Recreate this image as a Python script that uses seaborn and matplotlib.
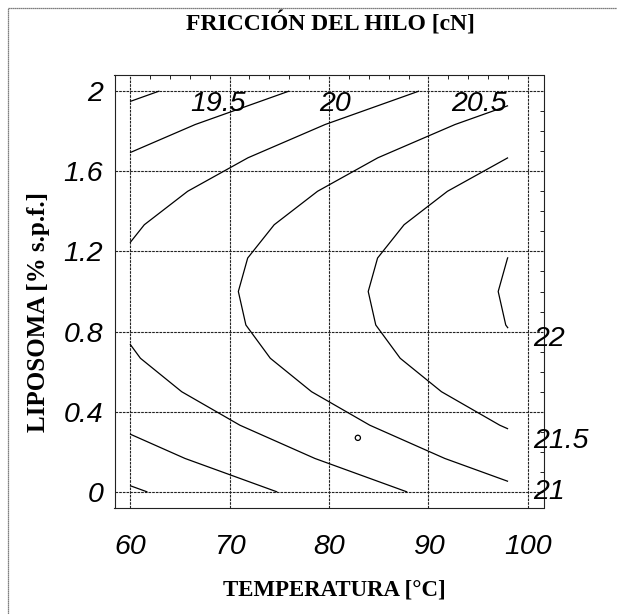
import matplotlib
matplotlib.use("Agg")
import numpy as np
import pandas as pd
import seaborn as sns
import matplotlib.pyplot as plt
from matplotlib.ticker import MultipleLocator, FixedLocator, FuncFormatter
from matplotlib.lines import Line2D

# ---- data ----
temperatura = [60, 70, 80, 90, 98]                       # °C (grid columns)
liposoma = [0.0, 0.167, 0.333, 0.5, 0.667, 0.833, 1.0,
            1.167, 1.333, 1.5, 1.667, 1.833, 2.0]        # % s.p.f. (grid rows)
friccion = [                                             # cN, rows = liposoma, cols = temperatura
    [19.433, 19.816, 20.199, 20.582, 20.888],
    [19.788, 20.171, 20.554, 20.937, 21.243],
    [20.077, 20.460, 20.843, 21.226, 21.532],
    [20.301, 20.684, 21.067, 21.450, 21.756],
    [20.460, 20.843, 21.226, 21.609, 21.915],
    [20.554, 20.937, 21.320, 21.703, 22.009],
    [20.583, 20.966, 21.349, 21.732, 22.038],
    [20.547, 20.930, 21.313, 21.696, 22.002],
    [20.445, 20.828, 21.211, 21.594, 21.900],
    [20.278, 20.661, 21.044, 21.427, 21.733],
    [20.046, 20.429, 20.812, 21.195, 21.501],
    [19.749, 20.132, 20.515, 20.898, 21.204],
    [19.387, 19.770, 20.153, 20.536, 20.842],
]
niveles = [19.5, 20, 20.5, 21, 21.5, 22]
niveles_arriba = ["19.5", "20", "20.5"]
niveles_derecha = ["21", "21.5", "22"]
punto_t = [82.9]
punto_l = [0.27]
xticks = [60, 70, 80, 90, 100]
yticks = [0, 0.4, 0.8, 1.2, 1.6, 2.0]

# ---- style ----
sns.set_theme(style="white")
plt.rcParams["font.family"] = ["Liberation Sans", "DejaVu Sans"]

W, H = 617, 614
fig = plt.figure(figsize=(W / 100, H / 100), dpi=100)
ax = fig.add_axes([114.5 / W, 1 - 508 / H, (543.5 - 114.5) / W, (508 - 75) / H])

T, L = np.meshgrid(temperatura, liposoma)
Z = np.array(friccion)
ax.contour(T, L, Z, levels=niveles, colors="black", linewidths=0.9)

sns.scatterplot(x=punto_t, y=punto_l, ax=ax, marker="o", s=14,
                facecolor="none", edgecolor="black", linewidth=0.9, legend=False)

ax.set_xlim(58.44, 101.56)
ax.set_ylim(-0.08, 2.08)

ax.xaxis.set_major_locator(FixedLocator(xticks))
ax.yaxis.set_major_locator(FixedLocator(yticks))
ax.xaxis.set_minor_locator(MultipleLocator(2))
ax.yaxis.set_minor_locator(MultipleLocator(0.1))
ax.yaxis.set_major_formatter(FuncFormatter(lambda v, p: f"{v:g}"))
ax.xaxis.set_major_formatter(FuncFormatter(lambda v, p: f"{v:g}"))

ax.grid(True, which="major", color="#222222", linewidth=0.8, linestyle=(0, (2.4, 0.9)))
ax.tick_params(which="both", direction="in", top=True, right=True, color="#222222")
ax.tick_params(which="major", length=0, width=0.8)
ax.tick_params(which="minor", length=3.2, width=0.7)
ax.tick_params(axis="x", which="major", pad=19)
ax.tick_params(axis="y", which="major", pad=8)
for lab in ax.get_xticklabels() + ax.get_yticklabels():
    lab.set_fontstyle("italic")
    lab.set_fontsize(20.5)
    lab.set_fontfamily(["Liberation Sans", "DejaVu Sans"])
    lab.set_color("black")
for sp in ax.spines.values():
    sp.set_color("#222222")
    sp.set_linewidth(0.8)

# contour labels
lab_kw = dict(fontsize=20.5, fontstyle="italic", color="black", clip_on=False,
              family=["Liberation Sans", "DejaVu Sans"])
for txt, xpos in zip(niveles_arriba, [68.8, 80.65, 95.1]):
    ax.text(xpos, 1.935, txt, ha="center", va="center", **lab_kw)
for txt, ypos in zip(niveles_derecha, [0.0, 0.254, 0.763]):
    ax.text(100.5, ypos, txt, ha="left", va="center", **lab_kw)

serif = ["Liberation Serif", "DejaVu Serif"]
fig.text(330 / W, 1 - 23 / H, "FRICCIÓN DEL HILO [cN]", ha="center", va="center",
         fontsize=17, fontweight="bold", family=serif, color="black")
fig.text(334 / W, 1 - 590 / H, "TEMPERATURA [°C]", ha="center", va="center",
         fontsize=16.5, fontweight="bold", family=serif, color="black")
fig.text(39 / W, 1 - 312 / H, "LIPOSOMA [% s.p.f.]", ha="center", va="center",
         rotation=90, fontsize=18, fontweight="bold", family=serif, color="black")

# outer frame (left and top edges visible)
fig.add_artist(Line2D([7.5 / W, 7.5 / W], [0, 1 - 7.5 / H], transform=fig.transFigure,
                      color="#555555", linewidth=0.9, linestyle=(0, (1, 0.6))))
fig.add_artist(Line2D([7.5 / W, 1], [1 - 7.5 / H, 1 - 7.5 / H], transform=fig.transFigure,
                      color="#555555", linewidth=0.9, linestyle=(0, (1, 0.6))))

fig.savefig("out.png", dpi=100, facecolor="white")
